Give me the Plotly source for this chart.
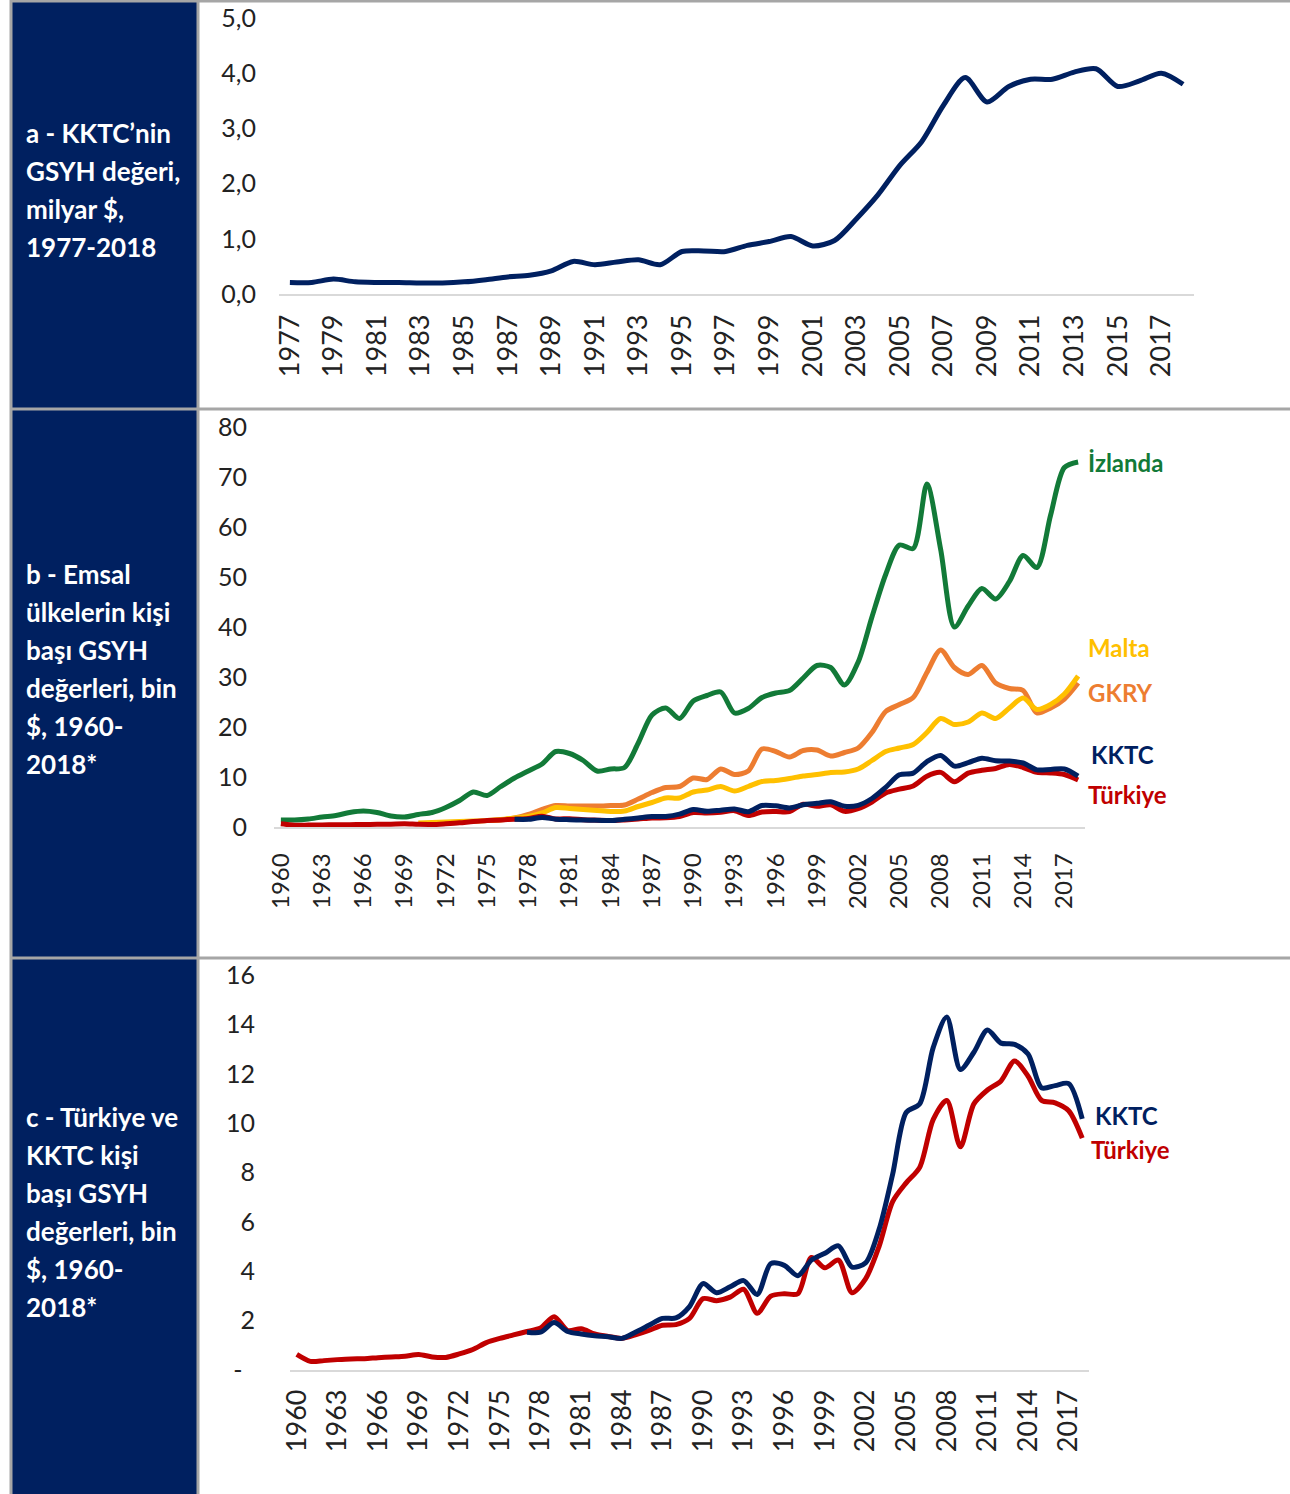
import plotly.graph_objects as go

W, H = 1290, 1494

# ---------------- data ----------------
years_a = list(range(1977, 2019))
kktc_gsyh = [0.21, 0.21, 0.27, 0.22, 0.21, 0.21, 0.20, 0.20, 0.22, 0.26, 0.31, 0.34, 0.42, 0.59,
             0.53, 0.58, 0.62, 0.53, 0.77, 0.78, 0.77, 0.88, 0.95, 1.04, 0.87, 0.97, 1.36, 1.80,
             2.33, 2.76, 3.42, 3.92, 3.48, 3.76, 3.89, 3.89, 4.02, 4.08, 3.76, 3.86, 4.00, 3.80]

years_b = list(range(1960, 2019))
izlanda = [1.4, 1.4, 1.6, 2.0, 2.3, 2.9, 3.2, 2.9, 2.2, 2.0, 2.5, 2.9, 3.9, 5.3, 7.0, 6.3, 8.1,
           9.8, 11.2, 12.6, 15.1, 14.7, 13.3, 11.2, 11.6, 11.9, 16.8, 22.4, 23.8, 21.7, 25.2,
           26.3, 27.0, 22.8, 23.7, 25.9, 26.8, 27.3, 29.8, 32.3, 31.9, 28.4, 33.0, 42.0, 50.5,
           56.4, 55.7, 68.6, 55.5, 40.0, 44.2, 47.7, 45.6, 49.1, 54.3, 51.9, 62.4, 71.9, 73.0]

years_malta = list(range(1970, 2019))
malta = [0.8, 0.9, 1.0, 1.1, 1.2, 1.3, 1.5, 1.8, 2.1, 2.8, 3.9, 3.7, 3.5, 3.3, 3.1, 3.2, 4.1,
         4.9, 5.8, 5.8, 7.0, 7.4, 8.1, 7.2, 8.1, 9.1, 9.3, 9.7, 10.2, 10.5, 10.9, 11.0, 11.6,
         13.3, 15.1, 15.8, 16.5, 18.9, 21.7, 20.5, 21.0, 22.8, 21.7, 23.8, 25.8, 23.5, 24.5,
         26.6, 30.2]

years_gkry = list(range(1975, 2019))
gkry = [1.3, 1.4, 1.8, 2.5, 3.5, 4.3, 4.2, 4.2, 4.2, 4.3, 4.4, 5.6, 6.9, 7.9, 8.1, 9.8, 9.5,
        11.6, 10.5, 11.2, 15.6, 15.1, 14.0, 15.3, 15.4, 14.2, 14.9, 15.8, 18.9, 23.1, 24.5,
        25.9, 30.9, 35.4, 31.9, 30.5, 32.3, 28.8, 27.7, 27.3, 22.8, 23.8, 25.6, 28.8]

years_kktc = list(range(1977, 2019))
kktc_kisi = [1.53, 1.53, 1.92, 1.56, 1.46, 1.39, 1.35, 1.28, 1.53, 1.81, 2.09, 2.11, 2.57, 3.50,
             3.13, 3.37, 3.62, 3.06, 4.31, 4.24, 3.82, 4.45, 4.73, 5.03, 4.17, 4.34, 5.70, 7.93,
             10.43, 10.78, 13.07, 14.30, 12.17, 12.87, 13.77, 13.24, 13.19, 12.80, 11.43, 11.52,
             11.60, 10.17]

years_tr = list(range(1960, 2019))
turkiye = [0.63, 0.35, 0.38, 0.42, 0.45, 0.46, 0.50, 0.53, 0.56, 0.63, 0.53, 0.51, 0.65, 0.83,
           1.11, 1.28, 1.42, 1.56, 1.70, 2.16, 1.60, 1.67, 1.46, 1.36, 1.28, 1.42, 1.60, 1.81,
           1.84, 2.09, 2.89, 2.81, 2.95, 3.27, 2.30, 2.99, 3.09, 3.09, 4.56, 4.14, 4.45, 3.13,
           3.69, 5.01, 6.82, 7.58, 8.21, 10.15, 10.92, 9.04, 10.78, 11.34, 11.71, 12.52, 11.90,
           10.92, 10.82, 10.50, 9.39]

ticks_a = list(range(1977, 2018, 2))
ticks_bc = list(range(1960, 2018, 3))
yt_a = [0, 1, 2, 3, 4, 5]
yt_b = [0, 10, 20, 30, 40, 50, 60, 70, 80]
yt_c = [0, 2, 4, 6, 8, 10, 12, 14, 16]
yt_c_text = ["-\u2002", "2", "4", "6", "8", "10", "12", "14", "16"]

side_a = ["a - KKTC’nin", "GSYH değeri,", "milyar $,", "1977-2018"]
side_b = ["b - Emsal", "ülkelerin kişi", "başı GSYH", "değerleri, bin", "$, 1960-", "2018*"]
side_c = ["c - Türkiye ve", "KKTC kişi", "başı GSYH", "değerleri, bin", "$, 1960-", "2018*"]

# ---------------- style ----------------
NAVY = "#002060"
GREEN = "#127a38"
ORANGE = "#ed7d31"
YELLOW = "#ffc000"
RED = "#c00000"
BORDER = "#a6a6a6"
TICKFONT = "Lato"
TICKCOL = "#222222"
LW = 5


def fx(px):
    return px / W


def fy(py):
    return 1 - py / H


fig = go.Figure()

fig.add_trace(go.Scatter(x=years_a, y=kktc_gsyh, mode="lines", xaxis="x", yaxis="y",
                         line=dict(color=NAVY, width=LW, shape="spline", smoothing=0.8),
                         hoverinfo="skip"))
for xs, ys, col in [(years_b, izlanda, GREEN), (years_gkry, gkry, ORANGE),
                    (years_malta, malta, YELLOW), (years_tr, turkiye, RED),
                    (years_kktc, kktc_kisi, NAVY)]:
    fig.add_trace(go.Scatter(x=xs, y=ys, mode="lines", xaxis="x2", yaxis="y2",
                             line=dict(color=col, width=LW, shape="spline", smoothing=0.8),
                             hoverinfo="skip"))
for xs, ys, col in [(years_tr, turkiye, RED), (years_kktc, kktc_kisi, NAVY)]:
    fig.add_trace(go.Scatter(x=xs, y=ys, mode="lines", xaxis="x3", yaxis="y3",
                             line=dict(color=col, width=LW, shape="spline", smoothing=0.8),
                             hoverinfo="skip"))

xcommon = dict(showgrid=False, zeroline=False, showline=True, linecolor="#d9d9d9",
               linewidth=1.5, ticks="", tickangle=-90, fixedrange=True, automargin=False)
ycommon = dict(showgrid=False, zeroline=False, showline=False, ticks="", fixedrange=True,
               automargin=False,
               tickfont=dict(family=TICKFONT, size=25, color=TICKCOL))

fig.update_layout(
    template="none",
    width=W, height=H, margin=dict(l=0, r=0, t=0, b=0, pad=0, autoexpand=False),
    paper_bgcolor="white", plot_bgcolor="white", showlegend=False,
    separators=",.",
    xaxis=dict(xcommon, domain=[fx(279), fx(1194)], range=[1976.5, 2018.5], anchor="y",
               tickvals=ticks_a, ticktext=[str(t) for t in ticks_a], ticklabelstandoff=8,
               tickfont=dict(family=TICKFONT, size=27, color=TICKCOL)),
    yaxis=dict(ycommon, domain=[fy(294), fy(18)], range=[0, 5], anchor="x",
               tickvals=yt_a, tickformat=".1f", ticklabelstandoff=22),
    xaxis2=dict(xcommon, domain=[fx(274), fx(1085)], range=[1959.5, 2018.5], anchor="y2",
                tickvals=ticks_bc, ticktext=[str(t) for t in ticks_bc], ticklabelstandoff=15,
                tickfont=dict(family=TICKFONT, size=24, color=TICKCOL)),
    yaxis2=dict(ycommon, domain=[fy(827), fy(427)], range=[0, 80], anchor="x2",
                tickvals=yt_b, ticklabelstandoff=26),
    xaxis3=dict(xcommon, domain=[fx(290), fx(1089)], range=[1959.5, 2018.5], anchor="y3",
                tickvals=ticks_bc, ticktext=[str(t) for t in ticks_bc], ticklabelstandoff=7,
                tickfont=dict(family=TICKFONT, size=27, color=TICKCOL)),
    yaxis3=dict(ycommon, domain=[fy(1370), fy(975)], range=[0, 16], anchor="x3",
                tickvals=yt_c, ticktext=yt_c_text, ticklabelstandoff=34),
)

shapes = []
rows = [(1, 409), (409, 958), (958, 1494)]
for top, bot in rows:
    shapes.append(dict(type="rect", xref="paper", yref="paper", x0=fx(11), x1=fx(198),
                       y0=fy(bot), y1=fy(top), fillcolor=NAVY, line=dict(width=0),
                       layer="below"))
for yy in [1, 409, 958]:
    shapes.append(dict(type="line", xref="paper", yref="paper", x0=fx(10), x1=1,
                       y0=fy(yy), y1=fy(yy), line=dict(color=BORDER, width=3)))
for xx in [11, 198]:
    shapes.append(dict(type="line", xref="paper", yref="paper", x0=fx(xx), x1=fx(xx),
                       y0=0, y1=fy(0), line=dict(color=BORDER, width=3)))
fig.update_layout(shapes=shapes)

ann = []
for lines, y0 in [(side_a, 133), (side_b, 574), (side_c, 1117)]:
    for i, t in enumerate(lines):
        ann.append(dict(text=t, xref="paper", yref="paper", x=fx(24), y=fy(y0 + 38 * i),
                        xanchor="left", yanchor="middle", showarrow=False,
                        font=dict(family="Lato", size=26, color="white", weight="bold")))

lab_b = [("İzlanda", izlanda[-1], GREEN, 0), ("Malta", 36.0, YELLOW, 0),
         ("GKRY", 27.0, ORANGE, 0), ("KKTC", 14.6, NAVY, 3), ("Türkiye", 6.6, RED, 0)]
for t, yv, col, dx in lab_b:
    ann.append(dict(text=t, xref="x2", yref="y2", x=2018, y=yv, xanchor="left",
                    yanchor="middle", xshift=8 + dx, showarrow=False,
                    font=dict(family="Lato", size=24, color=col, weight="bold")))
for t, yv, col, dx in [("KKTC", 10.3, NAVY, 4), ("Türkiye", 8.95, RED, 0)]:
    ann.append(dict(text=t, xref="x3", yref="y3", x=2018, y=yv, xanchor="left",
                    yanchor="middle", xshift=7 + dx, showarrow=False,
                    font=dict(family="Lato", size=24, color=col, weight="bold")))
fig.update_layout(annotations=ann)

fig.write_html("out.html", config={"displayModeBar": False},
               post_script="document.body.style.margin='0';document.body.style.overflow='hidden';")
